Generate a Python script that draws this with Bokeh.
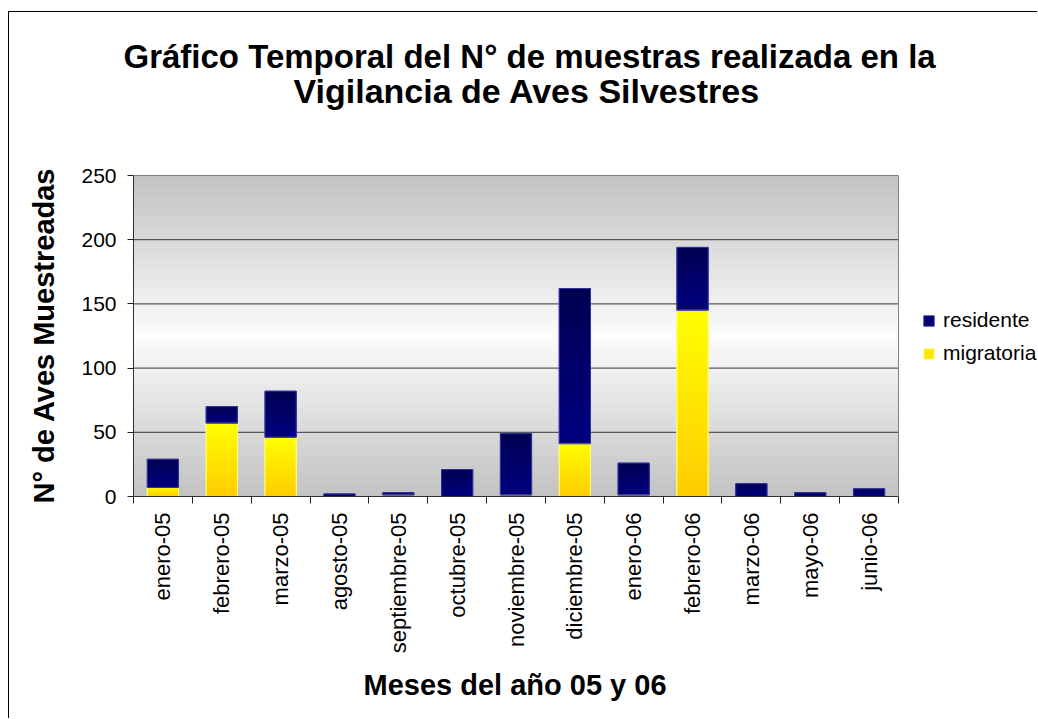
import math
import numpy as np
from bokeh.plotting import figure
from bokeh.models import (Range1d, FixedTicker, Legend, LegendItem, Title,
                          ColumnDataSource)
from bokeh.embed import file_html
from bokeh.resources import INLINE

# ---- data ----
months = ["enero-05", "febrero-05", "marzo-05", "agosto-05", "septiembre-05",
          "octubre-05", "noviembre-05", "diciembre-05", "enero-06", "febrero-06",
          "marzo-06", "mayo-06", "junio-06"]
migratoria = [7, 57, 46, 0, 1, 0, 1, 41, 1, 145, 0, 0, 0]
residente = [22, 13, 36, 2, 2, 21, 48, 121, 25, 49, 10, 3, 6]
y_ticks = [0, 50, 100, 150, 200, 250]

FONT = "Liberation Sans"
x = list(range(len(months)))
BAR_W = 0.53
N = len(months)
Y_MAX = 250

# ---- layout geometry (pixels) ----
FIG_W, FIG_H = 1029, 707
LEFT, TOP, BOTTOM = 124, 162, 223
PLOT_W_PX = 765           # width of the grey plot area
FRAME_W = FIG_W - LEFT    # frame runs to the right edge (legend lives inside it)
FRAME_H = FIG_H - TOP - BOTTOM
x_end = -0.5 + N * FRAME_W / PLOT_W_PX
y_end = Y_MAX * FRAME_H / (FRAME_H - 1)

src = ColumnDataSource(dict(x=x, migratoria=migratoria, residente=residente))

p = figure(width=FIG_W, height=FIG_H, x_range=Range1d(-0.5, x_end),
           y_range=Range1d(0, y_end), output_backend="svg", toolbar_location=None,
           min_border_left=LEFT, min_border_right=0, min_border_top=TOP,
           min_border_bottom=BOTTOM,
           styles={"margin-left": "8px", "margin-top": "11px",
                   "border-left": "1px solid black", "border-top": "1px solid black"})
p.background_fill_color = "white"
p.border_fill_color = "white"
p.outline_line_color = None


def rgba_gradient(bottom_rgb, top_rgb, n=128, cols=2):
    arr = np.zeros((n, cols), dtype=np.uint32)
    view = arr.view(dtype=np.uint8).reshape((n, cols, 4))
    t = np.linspace(0, 1, n)[:, None]
    for k in range(3):
        view[:, :, k] = np.round(bottom_rgb[k] + (top_rgb[k] - bottom_rgb[k]) * t)
    view[:, :, 3] = 255
    return arr


# plot-area background gradient (grey - white - grey)
n_bg = 250
bg = np.zeros((n_bg, 2), dtype=np.uint32)
bgv = bg.view(dtype=np.uint8).reshape((n_bg, 2, 4))
for i in range(n_bg):
    t = abs((i + 0.5) / n_bg - 0.5) * 2
    c = int(round(252 - (252 - 194) * t))
    bgv[i, :, 0] = c
    bgv[i, :, 1] = c
    bgv[i, :, 2] = c
    bgv[i, :, 3] = 255
p.image_rgba(image=[bg], x=-0.5, y=0, dw=N, dh=Y_MAX, level="image")

# horizontal grid lines limited to the plot area
grid_y = y_ticks[1:-1]
p.segment(x0=[-0.5] * len(grid_y), x1=[N - 0.5] * len(grid_y), y0=grid_y, y1=grid_y,
          line_color="#383838", line_width=1)

# stacked bars (solid, for legend)
rs = p.vbar_stack(["migratoria", "residente"], x="x", width=BAR_W,
                  fill_color=["#ffe600", "#000070"],
                  line_color=["#ffff80", "#3838a8"], line_width=1, source=src)

# gradient overlays
for i in x:
    m = migratoria[i]
    r = residente[i]
    if m > 0:
        p.image_rgba(image=[rgba_gradient((255, 204, 0), (255, 255, 0))],
                     x=i - BAR_W / 2, y=0, dw=BAR_W, dh=m)
    if r > 0:
        p.image_rgba(image=[rgba_gradient((0, 0, 128), (0, 0, 82))],
                     x=i - BAR_W / 2, y=m, dw=BAR_W, dh=r)

# outlines on top
p.vbar_stack(["migratoria", "residente"], x="x", width=BAR_W,
             fill_alpha=0, line_color=["#ffff70", "#3434a0"], line_width=1,
             source=src)

# plot-area border (top and right)
p.segment(x0=[-0.5, N - 0.5], x1=[N - 0.5, N - 0.5], y0=[Y_MAX, 0], y1=[Y_MAX, Y_MAX],
          line_color="#808080", line_width=1)

# axes
p.xaxis.bounds = (-0.5, N - 0.5)
p.xaxis.ticker = FixedTicker(ticks=x, minor_ticks=[i - 0.5 for i in range(N + 1)])
p.xaxis.major_label_overrides = {i: months[i] for i in x}
p.xaxis.major_label_orientation = math.pi / 2
p.xaxis.major_tick_line_color = None
p.xaxis.major_tick_out = 7
p.xaxis.major_tick_in = 0
p.xaxis.minor_tick_out = 7
p.xaxis.minor_tick_in = 0
p.xaxis.minor_tick_line_color = "#202020"
p.xaxis.major_label_standoff = 9

p.yaxis.bounds = (0, Y_MAX)
p.yaxis.ticker = FixedTicker(ticks=y_ticks, minor_ticks=[])
p.yaxis.major_tick_out = 6
p.yaxis.major_tick_in = 0
p.yaxis.major_tick_line_color = "#202020"
p.yaxis.major_label_standoff = 11
p.yaxis.axis_label = "N° de Aves Muestreadas"
p.yaxis.axis_label_standoff = 18

for ax in (p.xaxis[0], p.yaxis[0]):
    ax.axis_line_color = "#303030"
    ax.major_label_text_font = FONT
    ax.major_label_text_color = "black"
    ax.axis_label_text_font = FONT
    ax.axis_label_text_font_size = "29px"
    ax.axis_label_text_font_style = "bold"
    ax.axis_label_text_color = "black"
p.xaxis.major_label_text_font_size = "22px"
p.yaxis.major_label_text_font_size = "21px"

p.xgrid.visible = False
p.ygrid.visible = False

# x-axis title (placed as a below-title so it centres on the plot area)
xlab = Title(text="Meses del año 05 y 06", align="left", offset=230,
             text_font=FONT, text_font_size="29px", text_font_style="bold",
             text_color="black", standoff=20)
p.add_layout(xlab, "below")

# titles (spacer, second line, first line — stacked outward from the frame)
spacer = Title(text=" ", text_font_size="1px", standoff=62)
t2 = Title(text="Vigilancia de Aves Silvestres", align="left", offset=160,
           text_font=FONT, text_font_size="34px", text_font_style="bold",
           text_color="black", standoff=0)
t1 = Title(text="Gráfico Temporal del N° de muestras realizada en la", align="left",
           offset=-10, text_font=FONT, text_font_size="33px", text_font_style="bold",
           text_color="black", standoff=-10)
p.add_layout(spacer, "above")
p.add_layout(t2, "above")
p.add_layout(t1, "above")

# legend (inside the wide frame, to the right of the plot area)
legend = Legend(items=[LegendItem(label="residente", renderers=[rs[1]]),
                       LegendItem(label="migratoria", renderers=[rs[0]])],
                location=(789, 131), padding=0, margin=0, border_line_color=None,
                background_fill_alpha=0, glyph_width=13, glyph_height=13,
                label_standoff=8, spacing=9, label_height=24,
                label_text_font=FONT, label_text_font_size="21px",
                label_text_color="black")
p.add_layout(legend)

open("out.html", "w").write(file_html(p, INLINE))
